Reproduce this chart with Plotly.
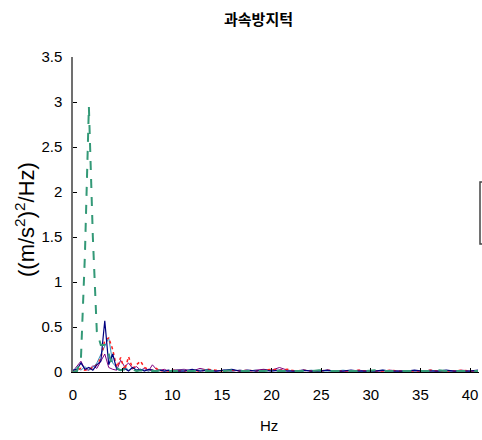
import plotly.graph_objects as go

# frequency grid (Hz)
freq_low = [round(0.4 * i, 2) for i in range(26)]          # 0 .. 10
freq_high = [round(10.4 + 0.8 * j, 2) for j in range(1, 39)]  # 11.2 .. 40.8
freq = freq_low + freq_high

green_low = [0, 0.01, 0.15, 1.3, 2.95, 1.5, 0.45, 0.3, 0.3, 0.2, 0.06, 0.04, 0.02,
             0.03, 0.02, 0.03, 0.01, 0.02, 0.01, 0.02, 0.01, 0.01, 0.02, 0.01, 0.01, 0.01]
navy_low = [0.02, 0.03, 0.1, 0.03, 0.05, 0.02, 0.08, 0.12, 0.57, 0.08, 0.2, 0.03, 0.02,
            0.04, 0.01, 0.05, 0.02, 0.03, 0.01, 0.03, 0.02, 0.01, 0.02, 0.01, 0.02, 0.01]
teal_low = [0.01, 0.05, 0.02, 0.06, 0.02, 0.05, 0.1, 0.2, 0.28, 0.38, 0.1, 0.05, 0.02,
            0.06, 0.02, 0.05, 0.02, 0.03, 0.02, 0.01, 0.02, 0.01, 0.02, 0.01, 0.01, 0.02]
red_low = [0, 0.02, 0.04, 0.02, 0.03, 0.05, 0.08, 0.15, 0.35, 0.38, 0.25, 0.05, 0.16,
           0.02, 0.17, 0.04, 0.08, 0.12, 0.05, 0.03, 0.02, 0.04, 0.01, 0.02, 0.01, 0.02]
purple_low = [0.01, 0.06, 0.12, 0.03, 0.02, 0.07, 0.04, 0.12, 0.2, 0.05, 0.03, 0.02, 0.13,
              0.06, 0.1, 0.04, 0.06, 0.02, 0.04, 0.01, 0.08, 0.03, 0.02, 0.03, 0.01, 0.02]

green_high = [0.01, 0.01, 0.02, 0.01, 0.01, 0.01, 0.02, 0.01, 0.01, 0.01, 0.01, 0.02, 0.01,
              0.01, 0.01, 0.01, 0.01, 0.02, 0.01, 0.01, 0.01, 0.01, 0.01, 0.01, 0.02, 0.01,
              0.01, 0.01, 0.01, 0.01, 0.01, 0.01, 0.02, 0.01, 0.01, 0.01, 0.01, 0.01]
navy_high = [0.01, 0.03, 0.01, 0.02, 0.01, 0.02, 0.03, 0.01, 0.02, 0.01, 0.02, 0.01, 0.02,
             0.01, 0.01, 0.02, 0.01, 0.01, 0.02, 0.01, 0.01, 0.02, 0.01, 0.01, 0.01, 0.02,
             0.01, 0.01, 0.01, 0.02, 0.01, 0.01, 0.01, 0.02, 0.01, 0.01, 0.01, 0.02]
teal_high = [0.02, 0.01, 0.02, 0.03, 0.01, 0.02, 0.01, 0.02, 0.01, 0.02, 0.01, 0.02, 0.01,
             0.02, 0.01, 0.01, 0.02, 0.01, 0.01, 0.01, 0.02, 0.01, 0.01, 0.01, 0.01, 0.02,
             0.01, 0.01, 0.01, 0.01, 0.01, 0.02, 0.01, 0.01, 0.01, 0.01, 0.01, 0.01]
red_high = [0.01, 0.02, 0.01, 0.03, 0.02, 0.01, 0.02, 0.01, 0.02, 0.01, 0.02, 0.03, 0.02,
            0.03, 0.01, 0.02, 0.01, 0.01, 0.02, 0.01, 0.01, 0.01, 0.02, 0.01, 0.01, 0.01,
            0.02, 0.01, 0.01, 0.01, 0.01, 0.02, 0.01, 0.01, 0.01, 0.02, 0.01, 0.01]
purple_high = [0.03, 0.01, 0.04, 0.02, 0.01, 0.02, 0.01, 0.02, 0.01, 0.02, 0.03, 0.02, 0.05,
               0.02, 0.01, 0.02, 0.01, 0.01, 0.02, 0.01, 0.01, 0.01, 0.02, 0.01, 0.01, 0.01,
               0.02, 0.01, 0.01, 0.01, 0.01, 0.02, 0.01, 0.01, 0.01, 0.02, 0.01, 0.01]

x_ticks = [0, 5, 10, 15, 20, 25, 30, 35, 40]
x_tick_labels = ["0", "5", "10", "15", "20", "25", "30", "35", "40"]
y_ticks = [0, 0.5, 1, 1.5, 2, 2.5, 3, 3.5]
y_tick_labels = ["0", "0.5", "1", "1.5", "2", "2.5", "3", "3.5"]

title_text = "과속방지턱"
x_title = "Hz"
y_title = "((m/s<sup>2</sup>)<sup>2</sup>/Hz)"

series = [
    ("s1", purple_low + purple_high, dict(color="#800080", width=1)),
    ("s2", teal_low + teal_high, dict(color="#3A8FB7", width=1)),
    ("s3", red_low + red_high, dict(color="#FF2020", width=1.5, dash="dot")),
    ("s4", navy_low + navy_high, dict(color="#000080", width=1.2)),
    ("s5", green_low + green_high, dict(color="#339977", width=2, dash="dash")),
]

fig = go.Figure()
for name, ys, line in series:
    fig.add_trace(go.Scatter(x=freq, y=ys, mode="lines", name=name, line=line,
                             showlegend=False))

L, R, T, B = 73, 3, 57, 68
W, H = 482, 440
pw = W - L - R
ph = H - T - B

fig.update_layout(
    width=W, height=H,
    margin=dict(l=L, r=R, t=T, b=B),
    paper_bgcolor="white", plot_bgcolor="white",
    font=dict(family="Liberation Sans, Arial, sans-serif", size=15, color="black"),
    xaxis=dict(range=[0, 40.9], tickvals=x_ticks, ticktext=x_tick_labels,
               showgrid=False, zeroline=False, showline=True, linecolor="black",
               linewidth=1, ticks="inside", ticklen=4, tickcolor="black",
               ticklabelstandoff=9, ticklabeloverflow="allow"),
    yaxis=dict(range=[0, 3.5], tickvals=y_ticks, ticktext=y_tick_labels,
               showgrid=False, zeroline=False, showline=True, linecolor="#707070",
               linewidth=1.5, ticks="inside", ticklen=4, tickcolor="black",
               ticklabelstandoff=6),
    annotations=[
        dict(text=f"<b>{title_text}</b>", xref="paper", yref="paper",
             x=(258 - L) / pw, y=(H - 18 - B) / ph, showarrow=False,
             xanchor="center", yanchor="middle",
             font=dict(family="Noto Sans CJK KR", size=15, color="black")),
        dict(text=x_title, xref="paper", yref="paper",
             x=(269 - L) / pw, y=(H - 425 - B) / ph, showarrow=False,
             xanchor="center", yanchor="middle",
             font=dict(size=15)),
        dict(text=y_title, xref="paper", yref="paper", textangle=-90,
             x=(25 - L) / pw, y=(H - 220 - B) / ph, showarrow=False,
             xanchor="center", yanchor="middle",
             font=dict(size=22)),
    ],
    shapes=[
        dict(type="rect", xref="paper", yref="paper",
             x0=(480 - L) / pw, x1=(500 - L) / pw,
             y0=(H - 244 - B) / ph, y1=(H - 182 - B) / ph,
             line=dict(color="#444444", width=1.5), fillcolor="white"),
    ],
)

fig.write_html("out.html")
